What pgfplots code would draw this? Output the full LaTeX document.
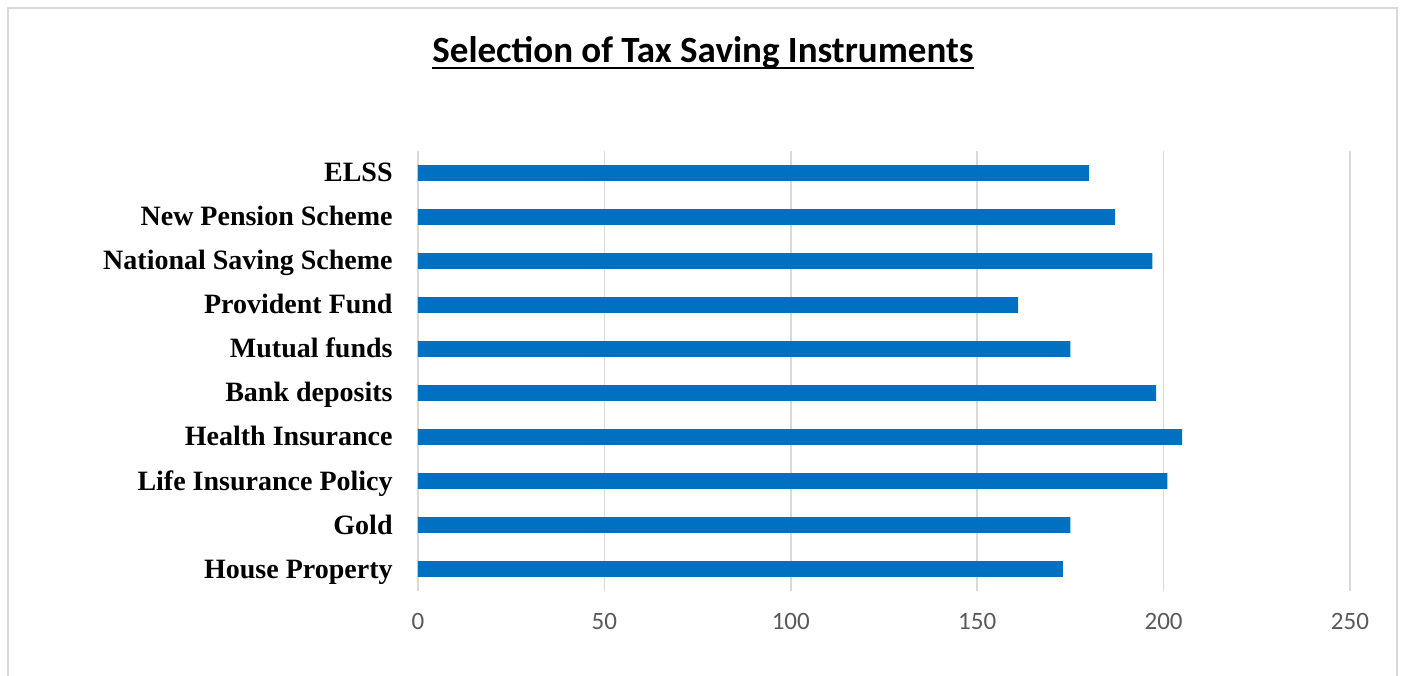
\documentclass[border=0pt]{standalone}
\usepackage{fontspec}
\setmainfont{Liberation Serif}
\newfontfamily\calibri{Carlito}
\usepackage{pgfplots}
\pgfplotsset{compat=1.18}
\definecolor{barblue}{HTML}{0070C0}
\definecolor{gridgray}{HTML}{D9D9D9}
\definecolor{ticktext}{HTML}{595959}
\definecolor{bordergray}{HTML}{D9D9D9}
\begin{document}
\begin{tikzpicture}
\useasboundingbox (-209pt,-42pt) rectangle (492.5pt,295.5pt);
\begin{scope}
\clip (-209pt,-42pt) rectangle (492.5pt,295.5pt);
\draw[bordergray, line width=0.75pt] (-205pt,-50pt) rectangle (489.5pt,291.5pt);
\end{scope}
\node[font=\calibri\bfseries\fontsize{18.5}{22}\selectfont, inner sep=0pt, anchor=base] (t) at (142.5pt,264pt) {Selection of Tax Saving Instruments};
\draw[line width=1pt] ([yshift=-2.4pt]t.base west) -- ([yshift=-2.4pt]t.base east);
\begin{axis}[
  at={(0,0)}, anchor=south west,
  scale only axis, width=466pt, height=220pt,
  xbar, bar width=7.8pt,
  xmin=0, xmax=250, ymin=-0.5, ymax=9.5,
  xtick={0,50,...,250},
  ytick={0,...,9},
  yticklabels={House Property,Gold,Life Insurance Policy,Health Insurance,Bank deposits,Mutual funds,Provident Fund,National Saving Scheme,New Pension Scheme,ELSS},
  axis line style={draw=none},
  major tick length=0pt,
  xmajorgrids,
  grid style={gridgray, line width=0.75pt},
  /pgf/number format/assume math mode=true,
  xticklabel style={font=\calibri\fontsize{12.5}{14}\selectfont, text=ticktext, anchor=north, inner sep=0pt, yshift=-11pt},
  yticklabel style={font=\bfseries\fontsize{14}{16}\selectfont, text=black, anchor=base east, inner sep=0pt, xshift=-12.5pt, yshift=-4.5pt},
]
\addplot[fill=barblue, draw=none] coordinates {
(173,0) (175,1) (201,2) (205,3) (198,4) (175,5) (161,6) (197,7) (187,8) (180,9)};
\end{axis}
\end{tikzpicture}
\end{document}
